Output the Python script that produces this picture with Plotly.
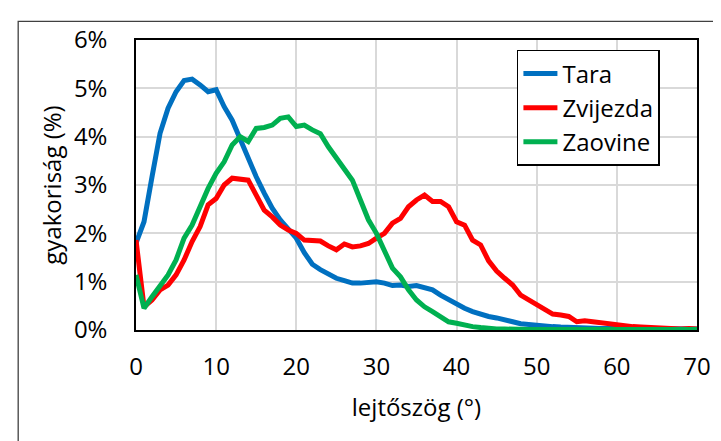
import plotly.graph_objects as go

angles = list(range(0, 71))

tara = [1.80, 2.24, 3.17, 4.07, 4.59, 4.93, 5.16, 5.19, 5.07, 4.93,
        4.97, 4.62, 4.34, 3.93, 3.52, 3.17, 2.83, 2.52, 2.28, 2.07,
        1.90, 1.60, 1.36, 1.25, 1.17, 1.07, 1.02, 0.97, 0.97, 0.99,
        1.00, 0.97, 0.92, 0.93, 0.90, 0.92, 0.88, 0.83, 0.72, 0.62,
        0.52, 0.45, 0.38, 0.32, 0.28, 0.25, 0.20, 0.17, 0.13, 0.11,
        0.09, 0.08, 0.07, 0.06, 0.05, 0.05, 0.04, 0.04, 0.03, 0.03,
        0.03, 0.02, 0.02, 0.02, 0.02, 0.02, 0.02, 0.02, 0.02, 0.02, 0.02]

zvijezda = [1.86, 0.48, 0.62, 0.83, 0.93, 1.14, 1.45, 1.83, 2.14, 2.59,
            2.72, 3.00, 3.14, 3.12, 3.10, 2.79, 2.48, 2.34, 2.17, 2.07,
            2.00, 1.86, 1.86, 1.84, 1.74, 1.66, 1.78, 1.72, 1.74, 1.79,
            1.90, 2.00, 2.21, 2.31, 2.55, 2.69, 2.79, 2.66, 2.66, 2.55,
            2.24, 2.17, 1.86, 1.76, 1.43, 1.22, 1.07, 0.93, 0.72, 0.62,
            0.52, 0.41, 0.33, 0.31, 0.28, 0.17, 0.19, 0.17, 0.15, 0.11,
            0.10, 0.09, 0.07, 0.06, 0.05, 0.04, 0.03, 0.03, 0.02, 0.03, 0.02]

zaovine = [1.14, 0.45, 0.69, 0.90, 1.14, 1.45, 1.90, 2.17, 2.55, 2.93,
           3.24, 3.48, 3.83, 4.00, 3.90, 4.17, 4.19, 4.24, 4.38, 4.41,
           4.21, 4.24, 4.14, 4.06, 3.79, 3.55, 3.31, 3.10, 2.69, 2.28,
           2.00, 1.66, 1.28, 1.10, 0.83, 0.62, 0.48, 0.38, 0.26, 0.17,
           0.14, 0.10, 0.07, 0.05, 0.03, 0.02, 0.02, 0.01, 0.01, 0.01,
           0.01, 0.01, 0.01, 0.01, 0.01, 0.01, 0.01, 0.01, 0.01, 0.01,
           0.01, 0.01, 0.01, 0.01, 0.01, 0.01, 0.01, 0.01, 0.01, 0.01, 0.01]

series_names = ["Tara", "Zvijezda", "Zaovine"]
series_colors = ["#0070C0", "#FF0000", "#00B050"]
series_values = [tara, zvijezda, zaovine]

FONT = "Open Sans"

fig = go.Figure()
for name, color, vals in zip(series_names, series_colors, series_values):
    fig.add_trace(go.Scatter(
        x=angles, y=vals, mode="lines", name=name,
        line=dict(color=color, width=5),
    ))

# the page body has an 8px margin, so the figure is drawn 8px in from the corner
fig.update_layout(
    width=713, height=433,
    margin=dict(l=128, r=24, t=32, b=111, autoexpand=False),
    paper_bgcolor="white", plot_bgcolor="white",
    font=dict(family=FONT, size=24, color="black"),
    showlegend=True,
    legend=dict(
        x=0.679, y=0.966, xanchor="left", yanchor="top",
        bgcolor="white", bordercolor="black", borderwidth=1.5,
        font=dict(family=FONT, size=24, color="black"),
        itemwidth=34,
    ),
    xaxis=dict(
        range=[0, 70], dtick=10, tick0=0,
        showgrid=True, gridcolor="#D9D9D9", gridwidth=1.5,
        showline=True, linecolor="black", linewidth=1.5, mirror=True,
        zeroline=False, ticks="", ticklabelstandoff=14, automargin=False,
        tickfont=dict(family=FONT, size=24),
        title=dict(text="lejtőszög (°)", font=dict(family=FONT, size=24), standoff=19),
    ),
    yaxis=dict(
        range=[0, 6], dtick=1, tick0=0, ticksuffix="%",
        showgrid=True, gridcolor="#D9D9D9", gridwidth=1.5,
        showline=True, linecolor="black", linewidth=1.5, mirror=True,
        zeroline=False, ticks="", ticklabelstandoff=22, automargin=False,
        tickfont=dict(family=FONT, size=24),
        title=dict(text="gyakoriság (%)", font=dict(family=FONT, size=24), standoff=5),
    ),
    shapes=[dict(
        type="rect", xref="paper", yref="paper",
        x0=-0.21, x1=1.3, y0=-0.8, y1=1.0644,
        line=dict(color="#404040", width=1.3), fillcolor="rgba(0,0,0,0)",
        layer="below",
    )],
)

fig.write_html("out.html")
